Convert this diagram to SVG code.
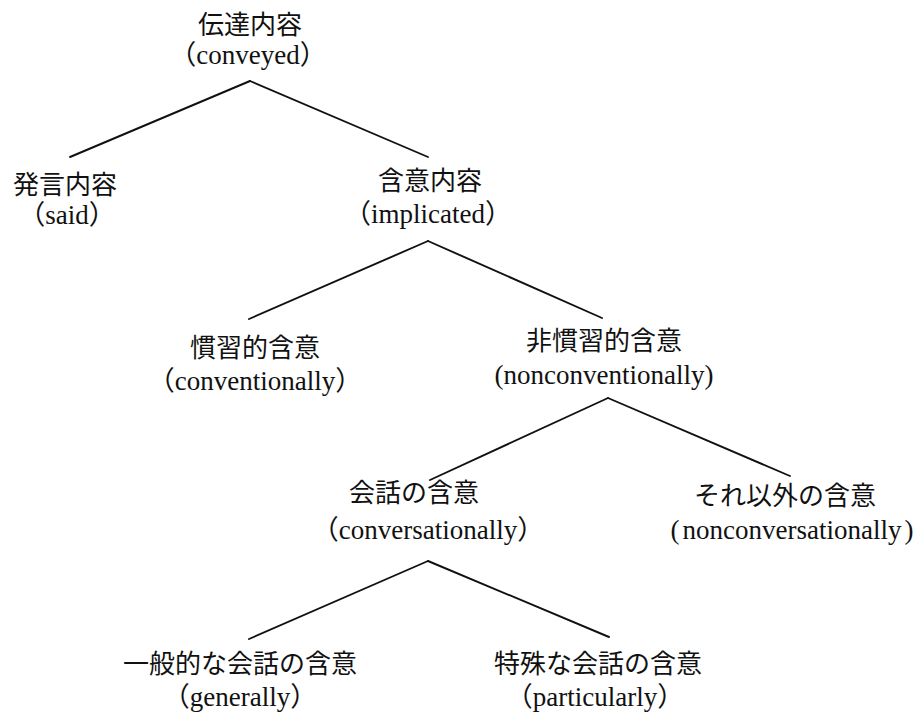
<svg xmlns="http://www.w3.org/2000/svg" width="919" height="712" viewBox="0 0 919 712">
<style>
.bg{fill:#ffffff}
.jp{font-family:"Noto Sans CJK JP","Noto Sans CJK SC",sans-serif;font-size:26px;fill:#111;text-anchor:middle}
.en{font-family:"Liberation Serif","Noto Sans CJK JP",serif;font-size:27px;fill:#111;text-anchor:middle}
.edge{stroke:#111;stroke-width:1.9;fill:none;stroke-linecap:round}
</style>
<rect class="bg" x="0" y="0" width="919" height="712"/>
<g id="connectors">
<line class="edge" x1="250" y1="81" x2="70" y2="157"/>
<line class="edge" x1="250" y1="81" x2="428" y2="157"/>
<line class="edge" x1="428" y1="241" x2="249" y2="319"/>
<line class="edge" x1="428" y1="241" x2="602" y2="318"/>
<line class="edge" x1="608" y1="398" x2="430" y2="480"/>
<line class="edge" x1="608" y1="398" x2="790" y2="476"/>
<line class="edge" x1="428" y1="561" x2="249" y2="639"/>
<line class="edge" x1="428" y1="561" x2="609" y2="637"/>
</g>
<g id="conveyed">
<text class="jp" x="250" y="34">伝達内容</text>
<text class="en" x="248" y="64">（conveyed）</text>
</g>
<g id="said">
<text class="jp" x="65" y="194">発言内容</text>
<text class="en" x="67" y="224">（said）</text>
</g>
<g id="implicated">
<text class="jp" x="430" y="190">含意内容</text>
<text class="en" x="428" y="223">（implicated）</text>
</g>
<g id="conventionally">
<text class="jp" x="255" y="357">慣習的含意</text>
<text class="en" x="255" y="390">（conventionally）</text>
</g>
<g id="nonconventionally">
<text class="jp" x="604" y="350">非慣習的含意</text>
<text class="en" x="604" y="384">(nonconventionally)</text>
</g>
<g id="conversationally">
<text class="jp" x="414" y="502">会話の含意</text>
<text class="en" x="428" y="539">（conversationally）</text>
</g>
<g id="nonconversationally">
<text class="jp" x="785" y="505">それ以外の含意</text>
<text class="en" x="792" y="539">(<tspan dx="3">nonconversationally</tspan><tspan dx="3">)</tspan></text>
</g>
<g id="generally">
<text class="jp" x="240" y="673">一般的な会話の含意</text>
<text class="en" x="240" y="706">（generally）</text>
</g>
<g id="particularly">
<text class="jp" x="598" y="673">特殊な会話の含意</text>
<text class="en" x="595" y="706">（particularly）</text>
</g>
</svg>
